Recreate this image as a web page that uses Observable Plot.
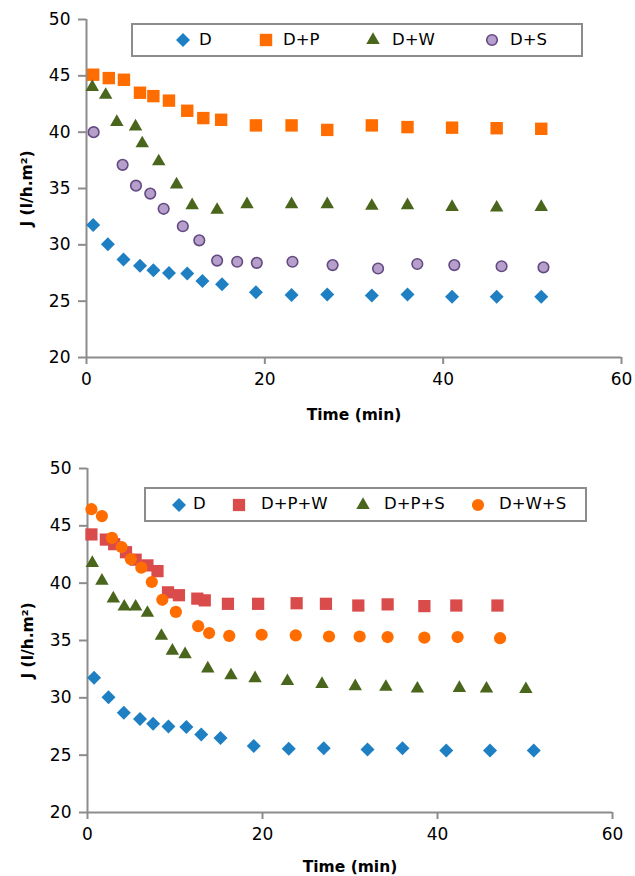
<!DOCTYPE html>
<html>
<head>
<meta charset="utf-8">
<script src="https://cdn.jsdelivr.net/npm/d3@7"></script>
<script src="https://cdn.jsdelivr.net/npm/@observablehq/plot@0.6"></script>
<style>
  html, body { margin: 0; padding: 0; background: #fff; }
  #page { position: relative; width: 635px; height: 876px; font-family: "DejaVu Sans", sans-serif; }
  .chart { position: relative; width: 635px; }
  .chart svg { display: block; }
  [aria-label="x-axis label"] text, [aria-label="y-axis label"] text { font-weight: bold; font-size: 15.5px; }
  .legend { position: absolute; background: #fff; border: 2px solid #8c8c8c; box-sizing: border-box; }
  .legend svg { position: absolute; overflow: visible; }
  .legend span { position: absolute; font-size: 16.5px; line-height: 1; white-space: nowrap; color: #000; }
</style>
</head>
<body>
<div id="page"></div>
<script>
// ---------- data ----------
const xTicks = [0, 20, 40, 60];
const yTicks = [20, 25, 30, 35, 40, 45, 50];

const timeD = [0.75, 2.4, 4.15, 6.0, 7.5, 9.25, 11.3, 13.0, 15.2, 19.0, 23.0, 27.0, 32.0, 36.0, 41.0, 46.0, 51.0];
const jD    = [31.75, 30.05, 28.7, 28.15, 27.75, 27.5, 27.45, 26.8, 26.5, 25.8, 25.55, 25.6, 25.5, 25.6, 25.4, 25.4, 25.4];

const timeDP = [0.75, 2.5, 4.2, 6.0, 7.5, 9.25, 11.3, 13.1, 15.1, 19.0, 23.0, 27.0, 32.0, 36.0, 41.0, 46.0, 51.0];
const jDP    = [45.1, 44.8, 44.65, 43.5, 43.2, 42.8, 41.9, 41.25, 41.1, 40.6, 40.6, 40.2, 40.6, 40.45, 40.4, 40.35, 40.3];

const timeDW = [0.65, 2.15, 3.4, 5.5, 6.25, 8.1, 10.1, 11.85, 14.65, 18.0, 23.0, 27.0, 32.0, 36.0, 41.0, 46.0, 51.0];
const jDW    = [44.0, 43.3, 40.9, 40.5, 39.0, 37.4, 35.35, 33.5, 33.1, 33.6, 33.6, 33.6, 33.45, 33.5, 33.35, 33.3, 33.35];

const timeDS = [0.8, 4.05, 5.55, 7.15, 8.65, 10.8, 12.65, 14.65, 16.9, 19.1, 23.1, 27.6, 32.7, 37.1, 41.25, 46.55, 51.25];
const jDS    = [40.0, 37.1, 35.25, 34.55, 33.2, 31.65, 30.4, 28.6, 28.5, 28.4, 28.5, 28.2, 27.9, 28.3, 28.2, 28.1, 28.0];

const timeDPW = [0.45, 2.1, 3.05, 4.4, 5.5, 6.85, 8.0, 9.2, 10.45, 12.55, 13.4, 16.05, 19.5, 23.9, 27.25, 30.95, 34.3, 38.5, 42.15, 46.85];
const jDPW    = [44.25, 43.8, 43.4, 42.7, 42.05, 41.55, 41.05, 39.2, 38.95, 38.65, 38.5, 38.2, 38.2, 38.25, 38.2, 38.05, 38.15, 38.0, 38.05, 38.05];

const timeDPS = [0.55, 1.65, 2.95, 4.2, 5.5, 6.85, 8.45, 9.7, 11.15, 13.75, 16.4, 19.15, 22.85, 26.8, 30.6, 34.1, 37.7, 42.5, 45.6, 50.1];
const jDPS    = [41.75, 40.2, 38.65, 37.95, 37.95, 37.4, 35.4, 34.1, 33.8, 32.55, 31.95, 31.7, 31.45, 31.2, 31.0, 30.95, 30.8, 30.85, 30.8, 30.75];

const timeDWS = [0.45, 1.65, 2.8, 3.9, 4.95, 6.15, 7.35, 8.55, 10.1, 12.65, 13.9, 16.2, 19.9, 23.8, 27.6, 31.1, 34.3, 38.5, 42.3, 47.15];
const jDWS    = [46.45, 45.85, 43.95, 43.15, 42.1, 41.35, 40.1, 38.55, 37.5, 36.25, 35.65, 35.4, 35.5, 35.45, 35.35, 35.35, 35.3, 35.25, 35.3, 35.2];

const xLabel = "Time (min)";
const yLabel = "J (l/h.m²)";

// ---------- styles ----------
const styles = {
  "D":     {symbol: "diamond2", r: 6.3, fill: "#1f7fc3", stroke: "none"},
  "D+P":   {symbol: "square",   r: 7.0, fill: "#ff6d00", stroke: "none"},
  "D+W":   {symbol: "triangle", r: 5.0, fill: "#4a661c", stroke: "none"},
  "D+S":   {symbol: "circle",   r: 5.3, fill: "#b6a0cb", stroke: "#634a82", strokeWidth: 1.6},
  "D+P+W": {symbol: "square",   r: 6.9, fill: "#da4b4b", stroke: "none"},
  "D+P+S": {symbol: "triangle", r: 5.0, fill: "#4a661c", stroke: "none"},
  "D+W+S": {symbol: "circle",   r: 6.1, fill: "#ff6d00", stroke: "none"}
};
const d3Symbols = {diamond2: d3.symbolDiamond2, square: d3.symbolSquare, triangle: d3.symbolTriangle, circle: d3.symbolCircle};

const rows = (ts, js) => ts.map((t, i) => ({t, j: js[i]}));

const topSeries = [
  ["D", rows(timeD, jD)],
  ["D+P", rows(timeDP, jDP)],
  ["D+W", rows(timeDW, jDW)],
  ["D+S", rows(timeDS, jDS)]
];
const bottomSeries = [
  ["D", rows(timeD, jD)],
  ["D+P+W", rows(timeDPW, jDPW)],
  ["D+P+S", rows(timeDPS, jDPS)],
  ["D+W+S", rows(timeDWS, jDWS)]
];

function chart(series, o) {
  const axisColor = "#8c8c8c";
  return Plot.plot({
    width: 635, height: o.height,
    marginLeft: o.marginLeft, marginRight: o.marginRight, marginTop: o.marginTop, marginBottom: o.marginBottom,
    style: {fontFamily: "DejaVu Sans", fontSize: "17px", color: "#000", background: "#fff", overflow: "visible"},
    x: {domain: [0, 60]},
    y: {domain: [20, 50]},
    marks: [
      Plot.axisX({ticks: xTicks, tickSize: 7, tickPadding: 8, stroke: axisColor, strokeWidth: 2,
        label: xLabel, labelAnchor: "center", labelArrow: "none", labelOffset: o.xLabelOffset}),
      Plot.axisY({ticks: yTicks, tickSize: 8, tickPadding: 8, stroke: axisColor, strokeWidth: 2,
        label: yLabel, labelAnchor: "center", labelArrow: "none", labelOffset: 66}),
      Plot.ruleX([0], {stroke: axisColor, strokeWidth: 2}),
      Plot.ruleY([20], {stroke: axisColor, strokeWidth: 2}),
      ...series.map(([name, data]) => {
        const s = styles[name];
        return Plot.dot(data, {x: "t", y: "j", symbol: s.symbol, r: s.r, fill: s.fill, stroke: s.stroke, strokeWidth: s.strokeWidth || 0});
      })
    ]
  });
}

function legend(container, series, box, items) {
  const div = document.createElement("div");
  div.className = "legend";
  Object.assign(div.style, {left: box.left + "px", top: box.top + "px", width: box.width + "px", height: box.height + "px"});
  series.forEach(([name], i) => {
    const s = styles[name];
    const it = items[i];
    const svg = d3.create("svg").attr("width", 1).attr("height", 1)
      .style("left", (it.sx - box.left - 2) + "px").style("top", (box.height / 2 - 2) + "px");
    svg.append("path")
      .attr("d", d3.symbol(d3Symbols[s.symbol], Math.PI * s.r * s.r)())
      .attr("fill", s.fill).attr("stroke", s.stroke).attr("stroke-width", s.strokeWidth || 0);
    div.appendChild(svg.node());
    const span = document.createElement("span");
    span.textContent = name;
    span.style.left = (it.tx - box.left - 2) + "px";
    span.style.top = (box.height / 2 - 2 - 8.5) + "px";
    div.appendChild(span);
  });
  container.appendChild(div);
}

const page = document.getElementById("page");

const top1 = document.createElement("div");
top1.className = "chart";
top1.appendChild(chart(topSeries, {height: 427, marginLeft: 86, marginRight: 14, marginTop: 19, marginBottom: 70, xLabelOffset: 62}));
legend(top1, topSeries, {left: 131, top: 23, width: 452, height: 34},
  [{sx: 183, tx: 199}, {sx: 266, tx: 283}, {sx: 373, tx: 392}, {sx: 492, tx: 510}]);
page.appendChild(top1);

const bot = document.createElement("div");
bot.className = "chart";
bot.appendChild(chart(bottomSeries, {height: 449, marginLeft: 87, marginRight: 23, marginTop: 41, marginBottom: 64, xLabelOffset: 59}));
legend(bot, bottomSeries, {left: 144, top: 60, width: 443, height: 35},
  [{sx: 179, tx: 193}, {sx: 239, tx: 261}, {sx: 363, tx: 384}, {sx: 478, tx: 499}]);
page.appendChild(bot);
</script>
</body>
</html>
